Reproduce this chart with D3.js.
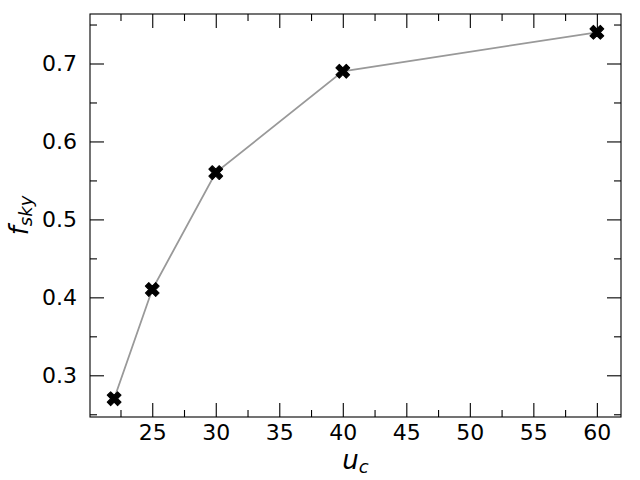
<!DOCTYPE html>
<html>
<head>
<meta charset="utf-8">
<script src="https://cdn.jsdelivr.net/npm/d3@7"></script>
<style>
  html, body { margin: 0; padding: 0; background: #fff; }
  svg { display: block; }
  text { font-family: "DejaVu Sans", sans-serif; fill: #000; }
</style>
</head>
<body>
<svg id="chart" width="640" height="480"></svg>
<script>
const uc = [22, 25, 30, 40, 60];
const fsky = [0.27, 0.41, 0.56, 0.69, 0.74];
const xMajorTicks = [25, 30, 35, 40, 45, 50, 55, 60];
const xMinorTicks = [22.5, 27.5, 32.5, 37.5, 42.5, 47.5, 52.5, 57.5, 62.5];
const yMajorTicks = [0.3, 0.4, 0.5, 0.6, 0.7];
const yMinorTicks = [0.25, 0.35, 0.45, 0.55, 0.65, 0.75];

const m = { left: 90, right: 621, top: 14, bottom: 417 };

const svg = d3.select("#chart");
const xPad = (d3.max(uc) - d3.min(uc)) * 0.05;
const yPad = (d3.max(fsky) - d3.min(fsky)) * 0.05;
const x = d3.scaleLinear().domain([d3.min(uc) - xPad, d3.max(uc) + xPad]).range([m.left, m.right]);
const y = d3.scaleLinear().domain([d3.min(fsky) - yPad, d3.max(fsky) + yPad]).range([m.bottom, m.top]);

const majorLen = 14, minorLen = 7;
const inDomain = (s) => (v) => v >= s.domain()[0] && v <= s.domain()[1];

function styleAxis(g, fontSize) {
  g.attr("font-size", fontSize).attr("font-family", "DejaVu Sans, sans-serif");
  g.select(".domain").remove();
  g.selectAll(".tick line").attr("stroke", "#000").attr("stroke-width", 1.1);
  g.selectAll(".tick text").attr("font-size", fontSize);
}

// bottom
svg.append("g").attr("transform", `translate(0,${m.bottom})`)
  .call(d3.axisBottom(x).tickValues(xMajorTicks).tickSize(-majorLen).tickPadding(7).tickFormat(d3.format("d")))
  .call(g => styleAxis(g, 22));
svg.append("g").attr("transform", `translate(0,${m.bottom})`)
  .call(d3.axisBottom(x).tickValues(xMinorTicks.filter(inDomain(x))).tickSize(-minorLen).tickFormat(""))
  .call(g => styleAxis(g, 10));
// top
svg.append("g").attr("transform", `translate(0,${m.top})`)
  .call(d3.axisTop(x).tickValues(xMajorTicks).tickSize(-majorLen).tickFormat(""))
  .call(g => styleAxis(g, 10));
svg.append("g").attr("transform", `translate(0,${m.top})`)
  .call(d3.axisTop(x).tickValues(xMinorTicks.filter(inDomain(x))).tickSize(-minorLen).tickFormat(""))
  .call(g => styleAxis(g, 10));
// left
svg.append("g").attr("transform", `translate(${m.left},0)`)
  .call(d3.axisLeft(y).tickValues(yMajorTicks).tickSize(-majorLen).tickPadding(13).tickFormat(d3.format(".1f")))
  .call(g => styleAxis(g, 22));
svg.append("g").attr("transform", `translate(${m.left},0)`)
  .call(d3.axisLeft(y).tickValues(yMinorTicks.filter(inDomain(y))).tickSize(-minorLen).tickFormat(""))
  .call(g => styleAxis(g, 10));
// right
svg.append("g").attr("transform", `translate(${m.right},0)`)
  .call(d3.axisRight(y).tickValues(yMajorTicks).tickSize(-majorLen).tickFormat(""))
  .call(g => styleAxis(g, 10));
svg.append("g").attr("transform", `translate(${m.right},0)`)
  .call(d3.axisRight(y).tickValues(yMinorTicks.filter(inDomain(y))).tickSize(-minorLen).tickFormat(""))
  .call(g => styleAxis(g, 10));

// frame
svg.append("rect")
  .attr("x", m.left).attr("y", m.top)
  .attr("width", m.right - m.left).attr("height", m.bottom - m.top)
  .attr("fill", "none").attr("stroke", "#000").attr("stroke-width", 1.1);

const pts = uc.map((u, i) => [u, fsky[i]]);
svg.append("path")
  .datum(pts)
  .attr("fill", "none")
  .attr("stroke", "#999999")
  .attr("stroke-width", 1.8)
  .attr("d", d3.line().x(d => x(d[0])).y(d => y(d[1])));

const sym = d3.symbol().type(d3.symbolCross).size(120);
svg.append("g").selectAll("path.mk")
  .data(pts).join("path")
  .attr("class", "mk")
  .attr("d", sym)
  .attr("fill", "#000")
  .attr("stroke", "#000")
  .attr("stroke-width", 1)
  .attr("stroke-linejoin", "round")
  .attr("transform", d => `translate(${x(d[0])},${y(d[1])}) rotate(45)`);

// axis labels
const xl = svg.append("text")
  .attr("x", (m.left + m.right) / 2)
  .attr("y", 469)
  .attr("text-anchor", "middle")
  .attr("font-size", 26)
  .attr("font-style", "italic");
xl.append("tspan").text("u");
xl.append("tspan").attr("font-size", 18).attr("dy", 4).text("c");

const yl = svg.append("text")
  .attr("transform", `translate(28,${(m.top + m.bottom) / 2}) rotate(-90)`)
  .attr("text-anchor", "middle")
  .attr("font-size", 26)
  .attr("font-style", "italic");
yl.append("tspan").text("f");
yl.append("tspan").attr("font-size", 18).attr("dy", 4).text("sky");
</script>
</body>
</html>
